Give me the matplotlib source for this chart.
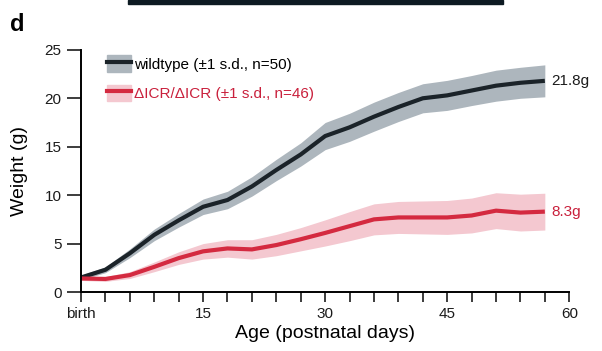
import matplotlib.pyplot as plt
from matplotlib.patches import Patch, Rectangle
from matplotlib.lines import Line2D
import numpy as np

plt.rcParams['font.family'] = ['Liberation Sans', 'DejaVu Sans']

# postnatal day, mean weight and s.d.
days = [0, 3, 6, 9, 12, 15, 18, 21, 24, 27, 30, 33, 36, 39, 42, 45, 48, 51, 54, 57]
wt_mean = [1.5, 2.3, 4.0, 5.9, 7.4, 8.8, 9.5, 10.9, 12.6, 14.2, 16.1, 17.0, 18.1, 19.1,
           20.0, 20.3, 20.8, 21.3, 21.6, 21.8]
wt_sd = [0.25, 0.3, 0.45, 0.6, 0.7, 0.8, 0.9, 1.0, 1.1, 1.2, 1.4, 1.45, 1.5, 1.5,
         1.5, 1.55, 1.55, 1.6, 1.6, 1.65]
ko_mean = [1.4, 1.35, 1.75, 2.6, 3.5, 4.2, 4.5, 4.4, 4.85, 5.45, 6.1, 6.8, 7.5, 7.7,
           7.7, 7.7, 7.9, 8.4, 8.2, 8.3]
ko_sd = [0.2, 0.25, 0.35, 0.5, 0.65, 0.8, 0.9, 1.0, 1.1, 1.2, 1.35, 1.5, 1.6, 1.65,
         1.7, 1.75, 1.8, 1.85, 1.9, 1.9]

wt_line, wt_band = '#1b2329', '#adb6bd'
ko_line, ko_band = '#d42a40', '#f4c8d0'
ko_text = '#c9203c'

fig = plt.figure(figsize=(6.02, 3.51), dpi=100)
ax = fig.add_axes([0.1346, 0.168, 0.811, 0.69])

d = np.array(days)
for m, s, lc, bc in [(wt_mean, wt_sd, wt_line, wt_band), (ko_mean, ko_sd, ko_line, ko_band)]:
    m, s = np.array(m), np.array(s)
    ax.fill_between(d, m - s, m + s, color=bc, lw=0)
    ax.plot(d, m, color=lc, lw=3, solid_capstyle='butt')

ax.text(57.8, wt_mean[-1], '21.8g', va='center', ha='left', fontsize=11, color='#1b1b1b')
ax.text(57.8, ko_mean[-1], '8.3g', va='center', ha='left', fontsize=11, color=ko_text)

ax.set_xlim(0, 60)
ax.set_ylim(0, 25)
ax.set_xticks([0, 15, 30, 45, 60])
ax.set_xticklabels(['birth', '15', '30', '45', '60'])
ax.set_xticks(np.arange(0, 61, 3), minor=True)
ax.set_yticks([0, 5, 10, 15, 20, 25])
ax.tick_params(which='both', direction='out', width=1.2, labelsize=11, colors='#1b1b1b')
ax.tick_params(axis='x', which='both', length=7.5, pad=3)
ax.tick_params(axis='y', length=10, pad=4)
ax.spines['top'].set_visible(False)
ax.spines['right'].set_visible(False)
ax.spines['left'].set_linewidth(1.4)
ax.spines['bottom'].set_linewidth(1.4)
ax.set_xlabel('Age (postnatal days)', fontsize=14, labelpad=3)
ax.set_ylabel('Weight (g)', fontsize=14, labelpad=12)

handles = [(Patch(color=wt_band), Line2D([], [], color=wt_line, lw=3)),
           (Patch(color=ko_band), Line2D([], [], color=ko_line, lw=3))]
leg = ax.legend(handles, ['wildtype (±1 s.d., n=50)', 'ΔICR/ΔICR (±1 s.d., n=46)'],
                loc='upper left', bbox_to_anchor=(0.025, 1.035), frameon=False,
                fontsize=11, handlelength=1.6, handleheight=1.3, handletextpad=0.2,
                labelspacing=0.85)
leg.get_texts()[1].set_color(ko_text)

fig.text(0.017, 0.912, 'd', fontsize=17, fontweight='bold')
fig.patches.append(Rectangle((128 / 602, 1 - 3.5 / 351), 375 / 602, 3.5 / 351,
                             transform=fig.transFigure, color='#0d1a22', zorder=0))

fig.savefig('out.png', dpi=100)
